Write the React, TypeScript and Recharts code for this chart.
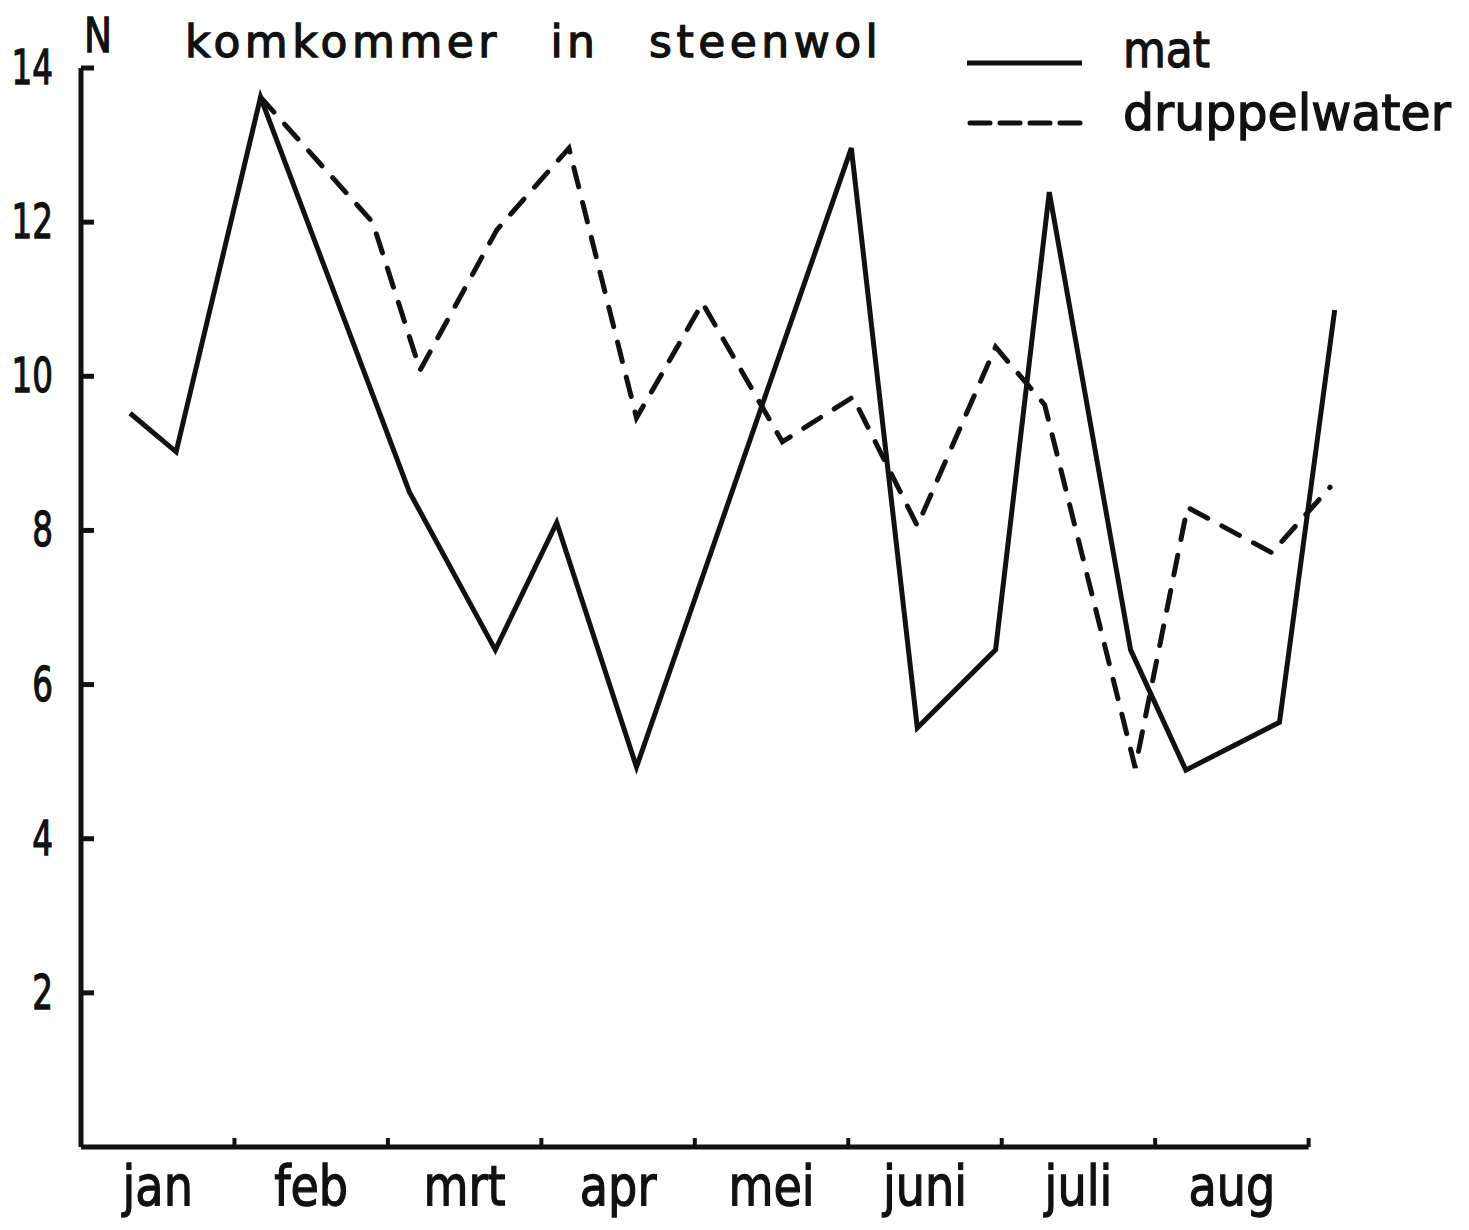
import React from 'react';
import { LineChart, Line, XAxis, YAxis, ReferenceLine } from 'recharts';

// ---- data ----
const months = ['jan', 'feb', 'mrt', 'apr', 'mei', 'juni', 'juli', 'aug'];
const yTicks = [2, 4, 6, 8, 10, 12, 14];

// x in months since 1 jan (0 = start of jan), y = N
const matX = [0.32, 0.62, 1.17, 2.14, 2.70, 3.10, 3.62, 5.02, 5.45, 5.96, 6.31, 6.84, 7.20, 7.81, 8.17];
const matY = [9.52, 9.02, 13.62, 8.50, 6.45, 8.10, 4.93, 12.96, 5.44, 6.45, 12.39, 6.45, 4.89, 5.51, 10.86];

const dripX = [1.17, 1.90, 2.21, 2.71, 3.18, 3.62, 4.05, 4.57, 5.03, 5.45, 5.96, 6.28, 6.87, 7.21, 7.76, 8.14];
const dripY = [13.62, 12.0, 10.08, 11.9, 12.96, 9.46, 10.95, 9.15, 9.73, 8.06, 10.38, 9.63, 4.92, 8.30, 7.71, 8.56];

const title = 'komkommer in steenwol';
const yLabel = 'N';
const legendNames = ['mat', 'druppelwater'];

const matData = matX.map((x, i) => ({ x, y: matY[i] }));
const dripData = dripX.map((x, i) => ({ x, y: dripY[i] }));
const xTicks: number[] = [];
months.forEach((_, i) => { xTicks.push(i); xTicks.push(i + 0.5); });
xTicks.push(months.length);

const FONT = '"DejaVu Sans", "Open Sans", sans-serif';
const INK = '#111';

function Glyphs(props: { x: number; y: number; size: number; sx?: number; anchor?: string; ls?: number; ws?: number; children: React.ReactNode }) {
  const { x, y, size, sx = 1, anchor = 'start', ls = 0, ws = 0, children } = props;
  return (
    <text
      transform={`translate(${x},${y}) scale(${sx},1)`}
      textAnchor={anchor}
      fontFamily={FONT}
      fontSize={size}
      fill={INK}
      stroke={INK}
      strokeWidth={1.3}
      style={{ letterSpacing: ls, wordSpacing: ws }}
    >
      {children}
    </text>
  );
}

const renderMonthTick = (p: any) => {
  const { x, y, payload } = p;
  const v = payload.value as number;
  if (Number.isInteger(v)) {
    if (v === 0) return <g />;
    return <line x1={x} x2={x} y1={y} y2={y - 9} stroke={INK} strokeWidth={4} />;
  }
  return (
    <Glyphs x={x} y={y + 58} size={55} sx={0.84} anchor="middle">
      {months[Math.floor(v)]}
    </Glyphs>
  );
};

const renderYTick = (p: any) => {
  const { x, y, payload } = p;
  return (
    <g>
      <line x1={x} x2={x + 13} y1={y} y2={y} stroke={INK} strokeWidth={5} />
      <Glyphs x={x - 28} y={y + 16} size={48} sx={0.68} anchor="end">
        {String(payload.value)}
      </Glyphs>
    </g>
  );
};

export default function App() {
  return (
    <div style={{ position: 'absolute', left: 0, top: 0, width: 1469, height: 1230, background: '#fff' }}>
      <LineChart
        width={1469}
        height={1230}
        margin={{ top: 68, right: 99, left: 0, bottom: 0 }}
      >
        <XAxis
          type="number"
          dataKey="x"
          domain={[0, 8.4]}
          ticks={xTicks}
          interval={0}
          tickSize={0}
          tickMargin={0}
          axisLine={false}
          tickLine={false}
          tick={renderMonthTick}
          height={83}
        />
        <YAxis
          type="number"
          domain={[0, 14]}
          ticks={yTicks}
          interval={0}
          tickSize={0}
          tickMargin={0}
          width={81}
          axisLine={{ stroke: INK, strokeWidth: 5 }}
          tickLine={false}
          tick={renderYTick}
        />
        <ReferenceLine
          segment={[{ x: 0, y: 0 }, { x: months.length, y: 0 }]}
          stroke={INK}
          strokeWidth={5}
        />
        <Line
          data={matData}
          dataKey="y"
          type="linear"
          stroke={INK}
          strokeWidth={5}
          dot={false}
          activeDot={false}
          isAnimationActive={false}
        />
        <Line
          data={dripData}
          dataKey="y"
          type="linear"
          stroke={INK}
          strokeWidth={5}
          strokeDasharray="20 16"
          strokeLinecap="round"
          dot={false}
          activeDot={false}
          isAnimationActive={false}
        />
      </LineChart>
      <svg
        width={1469}
        height={1230}
        style={{ position: 'absolute', left: 0, top: 0, pointerEvents: 'none' }}
      >
        <Glyphs x={84} y={52} size={48} sx={0.78}>{yLabel}</Glyphs>
        <Glyphs x={185} y={57} size={44} ls={4.5} ws={31}>{title}</Glyphs>
        <line x1={967} x2={1082} y1={63} y2={63} stroke={INK} strokeWidth={5} />
        <line x1={970} x2={1082} y1={123} y2={123} stroke={INK} strokeWidth={5} strokeDasharray="20 10" strokeLinecap="round" />
        <Glyphs x={1123} y={67} size={50} sx={0.88}>{legendNames[0]}</Glyphs>
        <Glyphs x={1123} y={130} size={50} sx={0.98}>{legendNames[1]}</Glyphs>
      </svg>
    </div>
  );
}
